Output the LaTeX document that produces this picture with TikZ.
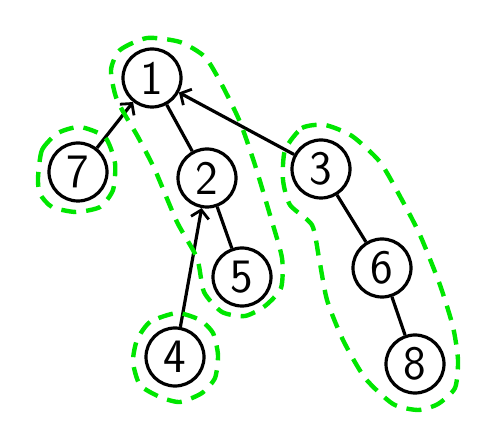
\documentclass[tikz,border=0pt]{standalone}
\usepackage{fontspec}
\setmainfont{DejaVu Sans}
\usetikzlibrary{arrows.meta}
\begin{document}
\begin{tikzpicture}[x=1pt,y=-1pt,
  vertex/.style={circle,draw=black,line width=3.2pt,minimum size=58pt,inner sep=0pt,font=\fontsize{48}{48}\selectfont\sffamily},
  edge/.style={line width=3.2pt},
  arr/.style={line width=3.2pt,-{Straight Barb[length=8pt,width=18pt,line width=2.8pt]}},
  group/.style={draw={rgb,255:red,0;green,230;blue,0},line width=4.4pt,dash pattern=on 15pt off 10pt}]
\useasboundingbox (0,0) rectangle (501,446);
\node[vertex] (n1) at (152,78) {1};
\node[vertex] (n7) at (78,172) {7};
\node[vertex] (n2) at (207,178) {2};
\node[vertex] (n3) at (321,169) {3};
\node[vertex] (n6) at (382,268) {6};
\node[vertex] (n5) at (242,277) {5};
\node[vertex] (n4) at (175,357) {4};
\node[vertex] (n8) at (415,364) {8};
\draw[arr] (n7) -- (n1);
\draw[arr] (n3) -- (n1);
\draw[arr] (n4) -- (n2);
\draw[edge] (n1) -- (n2);
\draw[edge] (n2) -- (n5);
\draw[edge] (n3) -- (n6);
\draw[edge] (n6) -- (n8);
\draw[group] plot[smooth cycle,tension=0.4] coordinates {(38,178) (42,150) (58,133) (80,127) (105,137) (115,163) (113,190) (100,207) (76,212) (52,207) (40,194)};
\draw[group] plot[smooth cycle,tension=0.4] coordinates {(111,70) (120,50) (147,38) (180,42) (205,57) (222,85) (240,122) (255,165) (270,215) (282,258) (281,288) (265,306) (245,316) (222,312) (204,292) (197,258) (177,222) (155,170) (138,137) (117,100)};
\draw[group] plot[smooth cycle,tension=0.4] coordinates {(285,150) (302,128) (325,125) (352,136) (380,162) (402,200) (420,235) (440,285) (453,327) (458,360) (455,388) (438,404) (418,410) (393,404) (365,378) (343,340) (327,300) (319,258) (312,225) (290,205) (283,180)};
\draw[group] plot[smooth cycle,tension=0.4] coordinates {(177,313) (150,322) (137,340) (133,362) (140,385) (160,397) (180,402) (202,393) (215,378) (218,355) (213,333) (200,320)};
\end{tikzpicture}
\end{document}
